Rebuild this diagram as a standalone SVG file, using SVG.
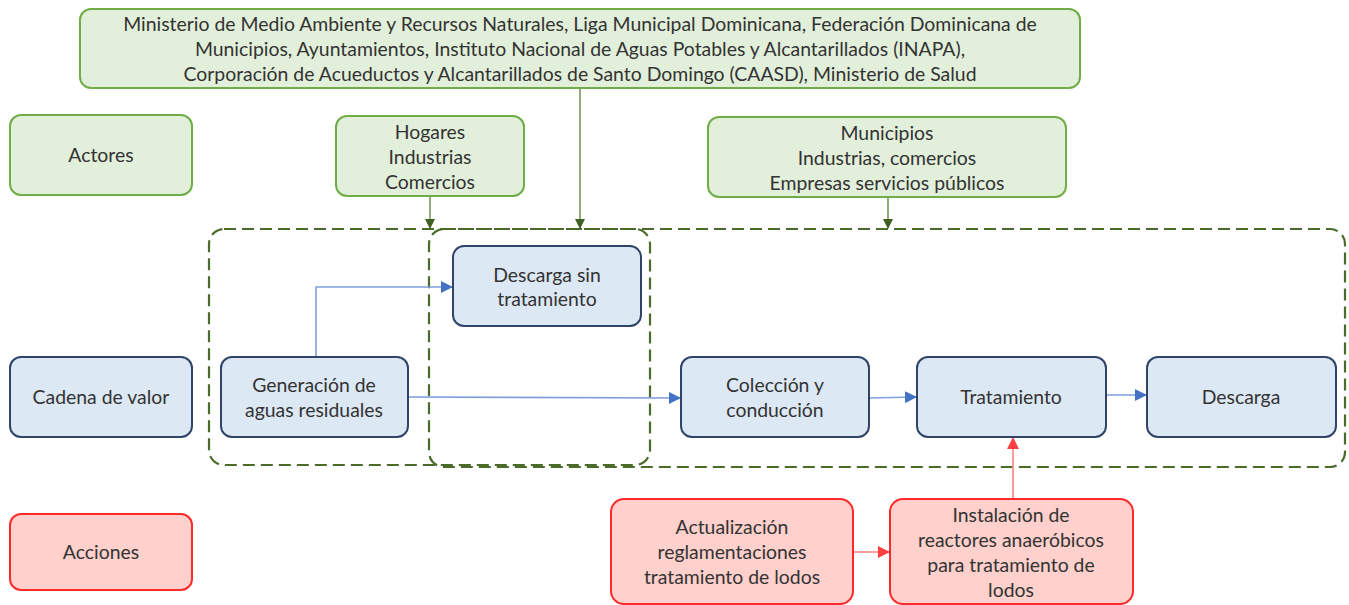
<svg xmlns="http://www.w3.org/2000/svg" width="1349" height="605" viewBox="0 0 1349 605">
<defs>
<style>
text{font-family:Lato,"Open Sans","Liberation Sans",sans-serif;font-size:19.4px;fill:#333;text-anchor:middle}
.g{fill:#e2efda;stroke:#70ad47;stroke-width:2}
.b{fill:#dde8f5;stroke:#2f4468;stroke-width:2}
.r{fill:#ffd0cc;stroke:#ff2a2a;stroke-width:2}
.dash{fill:none;stroke:#4a6b2a;stroke-width:2.2;stroke-dasharray:12 6}
.ga{fill:none;stroke:#5a7d3a;stroke-width:1.3;marker-end:url(#mg)}
.ba{fill:none;stroke:#7f9fdc;stroke-width:1.6;marker-end:url(#mb)}
.ra{fill:none;stroke:#ff8080;stroke-width:1.6;marker-end:url(#mr)}
</style>
<marker id="mg" markerWidth="10" markerHeight="10" refX="9" refY="5" orient="auto" markerUnits="userSpaceOnUse"><path d="M0,0 L10,5 L0,10 Z" fill="#3f6020"/></marker>
<marker id="mb" markerWidth="12" markerHeight="12" refX="11" refY="6" orient="auto" markerUnits="userSpaceOnUse"><path d="M0,0 L12,6 L0,12 Z" fill="#4472c4"/></marker>
<marker id="mr" markerWidth="12" markerHeight="12" refX="11" refY="6" orient="auto" markerUnits="userSpaceOnUse"><path d="M0,0 L12,6 L0,12 Z" fill="#ff4040"/></marker>
</defs>
<rect width="1349" height="605" fill="#fff"/>
<g id="regions">
<rect class="dash" x="209" y="229" width="441" height="236" rx="15"/>
<rect class="dash" x="429" y="229" width="916" height="238" rx="15"/>
</g>
<g id="connectors">
<path class="ga" d="M430,196 V228"/>
<path class="ga" d="M580,88 V228"/>
<path class="ga" d="M888,197 V228"/>
<path class="ba" d="M316,357 V287 H452"/>
<path class="ba" d="M408,397 L680,398"/>
<path class="ba" d="M869,398 L916,397"/>
<path class="ba" d="M1106,395 L1146,395"/>
<path class="ra" d="M853,552 H889"/>
<path class="ra" d="M1013,499 V438"/>
</g>
<g id="top"><rect class="g" x="80" y="9" width="1000" height="79" rx="11"/>
<text x="580" y="31">Ministerio de Medio Ambiente y Recursos Naturales, Liga Municipal Dominicana, Federación Dominicana de</text>
<text x="580" y="56">Municipios, Ayuntamientos, Instituto Nacional de Aguas Potables y Alcantarillados (INAPA),</text>
<text x="580" y="81">Corporación de Acueductos y Alcantarillados de Santo Domingo (CAASD), Ministerio de Salud</text></g>
<g id="actores"><rect class="g" x="10" y="115" width="182" height="80" rx="11"/><text x="101" y="162">Actores</text></g>
<g id="hogares"><rect class="g" x="336" y="116" width="188" height="80" rx="11"/>
<text x="430" y="139">Hogares</text><text x="430" y="164">Industrias</text><text x="430" y="189">Comercios</text></g>
<g id="municipios"><rect class="g" x="708" y="117" width="358" height="80" rx="11"/>
<text x="887" y="140">Municipios</text><text x="887" y="165">Industrias, comercios</text><text x="887" y="190">Empresas servicios públicos</text></g>
<g id="descarga-sin"><rect class="b" x="453" y="246" width="188" height="80" rx="11"/>
<text x="547" y="282">Descarga sin</text><text x="547" y="306">tratamiento</text></g>
<g id="cadena"><rect class="b" x="10" y="357" width="182" height="80" rx="11"/><text x="101" y="404">Cadena de valor</text></g>
<g id="generacion"><rect class="b" x="221" y="357" width="187" height="80" rx="11"/>
<text x="314" y="392">Generación de</text><text x="314" y="417">aguas residuales</text></g>
<g id="coleccion"><rect class="b" x="681" y="357" width="188" height="80" rx="11"/>
<text x="775" y="392">Colección y</text><text x="775" y="417">conducción</text></g>
<g id="tratamiento"><rect class="b" x="917" y="357" width="189" height="80" rx="11"/><text x="1011" y="404">Tratamiento</text></g>
<g id="descarga"><rect class="b" x="1147" y="357" width="189" height="80" rx="11"/><text x="1241" y="404">Descarga</text></g>
<g id="acciones"><rect class="r" x="10" y="514" width="182" height="76" rx="11"/><text x="101" y="559">Acciones</text></g>
<g id="actualizacion"><rect class="r" x="611" y="499" width="242" height="105" rx="13"/>
<text x="732" y="534">Actualización</text><text x="732" y="559">reglamentaciones</text><text x="732" y="584">tratamiento de lodos</text></g>
<g id="instalacion"><rect class="r" x="890" y="499" width="243" height="105" rx="13"/>
<text x="1011" y="522">Instalación de</text><text x="1011" y="547">reactores anaeróbicos</text><text x="1011" y="572">para tratamiento de</text><text x="1011" y="597">lodos</text></g>
</svg>
